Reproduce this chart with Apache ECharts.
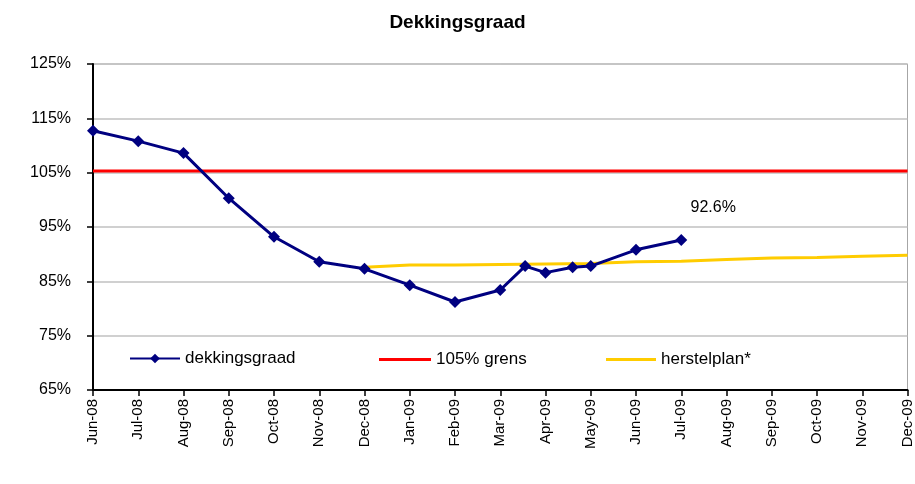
<!DOCTYPE html>
<html>
<head>
<meta charset="utf-8">
<script src="https://cdn.jsdelivr.net/npm/echarts@6/dist/echarts.min.js"></script>
<style>html,body{margin:0;padding:0;background:#fff}#c{width:915px;height:484px}</style>
</head>
<body>
<div id="c"></div>
<script>
// Month tick labels (x axis)
var months = ['Jun-08','Jul-08','Aug-08','Sep-08','Oct-08','Nov-08','Dec-08','Jan-09','Feb-09','Mar-09','Apr-09','May-09','Jun-09','Jul-09','Aug-09','Sep-09','Oct-09','Nov-09','Dec-09'];
// dekkingsgraad: position in months since Jun-08, value in %
var dgPos = [0,1,2,3,4,5,6,7,8,9,9.55,10,10.6,11,12,13];
var dgVal = [112.7,110.8,108.6,100.3,93.2,88.6,87.3,84.3,81.2,83.4,87.8,86.6,87.6,87.8,90.8,92.6];
// 105% grens
var grensPos = [0,18];
var grensVal = [105.3,105.3];
// herstelplan*
var hpPos = [6,7,8,9,10,11,12,13,14,15,16,17,18];
var hpVal = [87.6,88.0,88.0,88.1,88.2,88.3,88.6,88.7,89.0,89.3,89.4,89.6,89.8];
// y ticks
var yMin = 65, yMax = 125, yStep = 10;

function pairs(p, v){ return p.map(function(x,i){ return [x, v[i]]; }); }
var lastIdx = dgVal.length - 1;

var font = 'Arial, "Liberation Sans", sans-serif';
var chart = echarts.init(document.getElementById('c'));
chart.setOption({
  animation: false,
  title: {text: 'Dekkingsgraad', left: 'center', top: 8,
    textStyle: {fontFamily: font, fontSize: 19, fontWeight: 'bold', color: '#000'}},
  grid: {left: 93, right: 7, top: 64, bottom: 94, show: true, borderColor: '#a6a6a6', borderWidth: 1},
  xAxis: {type: 'value', min: 0, max: 18, interval: 1,
    axisLine: {lineStyle: {color: '#000', width: 2}},
    axisTick: {show: true, length: 6, lineStyle: {color: '#000', width: 1.5}},
    splitLine: {show: false},
    axisLabel: {rotate: 90, margin: 9, fontFamily: font, fontSize: 15, color: '#000',
      formatter: function(v){ return months[Math.round(v)]; }}},
  yAxis: {type: 'value', min: yMin, max: yMax, interval: yStep,
    axisLine: {show: true, lineStyle: {color: '#000', width: 2}},
    axisTick: {show: true, length: 6, lineStyle: {color: '#000', width: 1.5}},
    splitLine: {show: true, lineStyle: {color: '#c0c0c0', width: 1.5}},
    axisLabel: {margin: 22, fontFamily: font, fontSize: 16, color: '#000',
      formatter: function(v){ return v + '%'; }}},
  legend: [
    {data: ['dekkingsgraad'], left: 129, top: 350, padding: 0, itemWidth: 50, itemHeight: 12,
      textStyle: {fontFamily: font, fontSize: 17, color: '#000'}},
    {data: [{name: '105% grens', icon: 'rect'}], left: 379, top: 351, padding: 0, itemWidth: 52, itemHeight: 3,
      textStyle: {fontFamily: font, fontSize: 17, color: '#000'}},
    {data: [{name: 'herstelplan*', icon: 'rect'}], left: 606, top: 351, padding: 0, itemWidth: 50, itemHeight: 3,
      textStyle: {fontFamily: font, fontSize: 17, color: '#000'}}
  ],
  series: [
    {name: '105% grens', type: 'line', data: pairs(grensPos, grensVal), symbol: 'none',
      lineStyle: {color: '#ff0000', width: 3}, itemStyle: {color: '#ff0000'}, z: 2},
    {name: 'herstelplan*', type: 'line', data: pairs(hpPos, hpVal), symbol: 'none',
      lineStyle: {color: '#ffcc00', width: 3}, itemStyle: {color: '#ffcc00'}, z: 2},
    {name: 'dekkingsgraad', type: 'line', data: pairs(dgPos, dgVal),
      symbol: 'diamond', symbolSize: 12, showAllSymbol: true,
      lineStyle: {color: '#000080', width: 3}, itemStyle: {color: '#000080'}, z: 3,
      label: {show: true, position: 'top', offset: [32, -13], fontFamily: font, fontSize: 16, color: '#000',
        formatter: function(p){ return p.dataIndex === lastIdx ? p.value[1].toFixed(1) + '%' : ''; }}}
  ]
});
</script>
</body>
</html>
